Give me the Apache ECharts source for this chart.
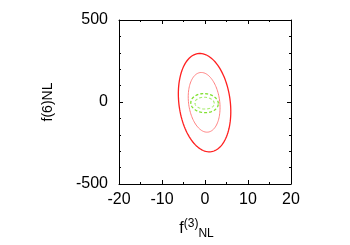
<!DOCTYPE html>
<html><head><meta charset="utf-8">
<script src="https://cdn.jsdelivr.net/npm/echarts@6/dist/echarts.min.js"></script>
<style>html,body{margin:0;padding:0;background:#fff}#c{width:350px;height:245px}</style>
</head><body><div id="c"></div>
<script>
// Ellipse contours: [centerX, centerY, halfWidthX, halfHeightY, correlation]
var redOuter = [-0.1, -4, 6.1, 300, -0.18];
var redInner = [-0.2, -2, 3.7, 182, -0.18];
var greenOuter = [-0.1, -7, 3.2, 58, -0.05];
var greenInner = [-0.1, -7, 2.25, 36, -0.05];
var xTicks = [-20, -10, 0, 10, 20];
var yTicks = [-500, 0, 500];

var FONT = 'Liberation Sans, Arial, Helvetica, sans-serif';
var chart = echarts.init(document.getElementById('c'));

function ellipseSeries(name, params, color, width, dash) {
  return {
    type: 'custom', name: name, clip: true,
    dimensions: ['cx', 'cy', 'sx', 'sy', 'rho'],
    encode: {x: 0, y: 1},
    data: [params],
    renderItem: function (p, api) {
      var cx = api.value(0), cy = api.value(1), sx = api.value(2), sy = api.value(3), r = api.value(4);
      var pts = [];
      var n = 120;
      for (var i = 0; i <= n; i++) {
        var t = i / n * Math.PI * 2;
        var x = cx + sx * Math.cos(t);
        var y = cy + sy * (r * Math.cos(t) + Math.sqrt(1 - r * r) * Math.sin(t));
        pts.push(api.coord([x, y]));
      }
      return {type: 'polyline', shape: {points: pts},
        style: {fill: null, stroke: color, lineWidth: width, lineDash: dash || null}};
    }
  };
}

function tickStyle(split) {
  return {
    axisLine: {show: true, onZero: false, lineStyle: {color: '#000', width: 1}},
    splitLine: {show: false},
    axisTick: {show: true, inside: true, length: 4, lineStyle: {color: '#000'}},
    minorTick: {show: true, splitNumber: split, length: 2, lineStyle: {color: '#000'}}
  };
}

var nameRich = {
  f: {fontSize: 16, fontFamily: FONT, color: '#000', verticalAlign: 'middle'},
  sup: {fontSize: 12, fontFamily: FONT, color: '#000', verticalAlign: 'top'},
  sub: {fontSize: 12, fontFamily: FONT, color: '#000', verticalAlign: 'bottom'}
};

chart.setOption({
  animation: false,
  grid: {left: 119, right: 59, top: 20, bottom: 53},
  xAxis: [
    Object.assign({type: 'value', min: -20, max: 20, interval: 10, position: 'bottom',
      name: '{f|f}{sup|(3)}{sub|NL}', nameLocation: 'middle', nameGap: 34,
      nameTextStyle: {rich: nameRich, lineHeight: 22, padding: [0, 17, 0, 0]},
      axisLabel: {show: true, color: '#000', fontSize: 16, fontFamily: FONT, margin: 8,
        formatter: function (v) { return xTicks.indexOf(v) >= 0 ? String(v) : ''; }}},
      tickStyle(2)),
    Object.assign({type: 'value', min: -20, max: 20, interval: 10, position: 'top',
      axisLabel: {show: false}}, tickStyle(2))
  ],
  yAxis: [
    Object.assign({type: 'value', min: -500, max: 500, interval: 500, position: 'left',
      name: 'f(6)NL', nameLocation: 'middle', nameGap: 64,
      nameTextStyle: {color: '#000', fontSize: 14},
      axisLabel: {show: true, color: '#000', fontSize: 16, fontFamily: FONT, margin: 11,
        formatter: function (v) { return yTicks.indexOf(v) >= 0 ? String(v) : ''; }}},
      tickStyle(5)),
    Object.assign({type: 'value', min: -500, max: 500, interval: 500, position: 'right',
      axisLabel: {show: false}}, tickStyle(5))
  ],
  series: [
    ellipseSeries('red 2σ', redOuter, '#ff2020', 1.3),
    ellipseSeries('red 1σ', redInner, '#ff8080', 1),
    ellipseSeries('green 2σ', greenOuter, '#80e030', 1.3, [3, 2]),
    ellipseSeries('green 1σ', greenInner, '#a8ec70', 1.1, [3, 2])
  ]
});
</script></body></html>
